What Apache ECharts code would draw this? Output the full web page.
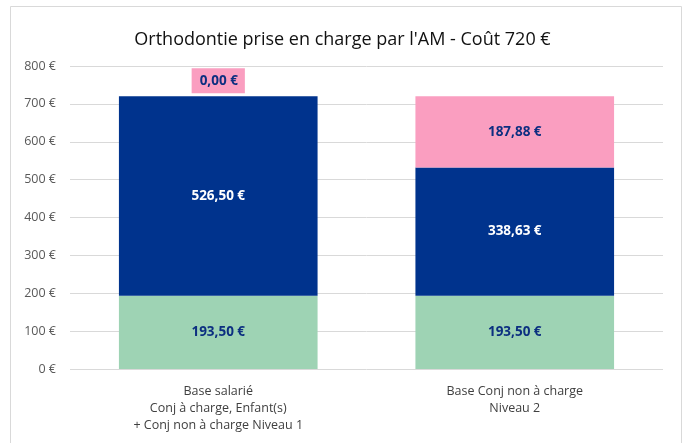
<!DOCTYPE html>
<html>
<head>
<meta charset="utf-8">
<script src="https://cdn.jsdelivr.net/npm/echarts@6/dist/echarts.min.js"></script>
<style>
  html, body { margin: 0; padding: 0; background: #fff; }
  #chart { width: 685px; height: 443px; }
</style>
</head>
<body>
<div id="chart"></div>
<script>
// data
var categories = [
  'Base salarié\nConj à charge, Enfant(s)\n+ Conj non à charge Niveau 1',
  'Base Conj non à charge\nNiveau 2'
]
var baseValues = [193.50, 193.50]
var amValues = [526.50, 338.63]
var resteValues = [0.00, 187.88]
var yTicks = [0, 100, 200, 300, 400, 500, 600, 700, 800]

var FONT = '"Open Sans", "Noto Sans", sans-serif'

function euro(v) {
  return v.toFixed(2).replace('.', ',') + ' €'
}

var chart = echarts.init(document.getElementById('chart'))

// pink slice: zero value gets its label on top with a pink box
var resteData = resteValues.map(function (v) {
  if (v === 0) {
    return {
      value: v,
      label: {
        position: 'top',
        distance: 3,
        backgroundColor: '#fa9ec0',
        padding: [6, 7, 5, 8]
      }
    }
  }
  return v
})

var dataLabel = {
  show: true,
  position: 'inside',
  fontFamily: FONT,
  fontWeight: 'bold',
  fontSize: 13.5,
  formatter: function (p) { return euro(p.value) }
}

chart.setOption({
  animation: false,
  title: {
    text: "Orthodontie prise en charge par l'AM - Coût 720 €",
    left: 'center',
    top: 26,
    textStyle: {
      fontFamily: FONT,
      fontSize: 18,
      fontWeight: 'normal',
      color: '#111'
    }
  },
  graphic: [{
    type: 'rect',
    shape: { x: 10.5, y: 6.5, width: 671, height: 460 },
    style: { fill: 'none', stroke: '#d9d9d9', lineWidth: 1 },
    silent: true
  }],
  grid: {
    left: 70,
    right: 22,
    top: 66,
    bottom: 74
  },
  xAxis: {
    type: 'category',
    data: categories,
    axisLine: { show: false },
    axisTick: { show: false },
    axisLabel: {
      margin: 14,
      color: '#404040',
      fontFamily: FONT,
      fontSize: 12.5,
      lineHeight: 17
    }
  },
  yAxis: {
    type: 'value',
    min: yTicks[0],
    max: yTicks[yTicks.length - 1],
    interval: 100,
    axisLine: { show: false },
    axisTick: { show: false },
    splitLine: { lineStyle: { color: '#d9d9d9', width: 1 } },
    axisLabel: {
      margin: 14,
      color: '#595959',
      fontFamily: FONT,
      fontSize: 12.5,
      formatter: function (v) { return v + ' €' }
    }
  },
  series: [
    {
      name: 'Base',
      type: 'bar',
      stack: 'total',
      barWidth: '67%',
      data: baseValues,
      itemStyle: { color: '#9ed3b4' },
      label: Object.assign({}, dataLabel, { color: '#0c2f80' })
    },
    {
      name: 'AM',
      type: 'bar',
      stack: 'total',
      data: amValues,
      itemStyle: { color: '#00338d' },
      label: Object.assign({}, dataLabel, { color: '#ffffff' })
    },
    {
      name: 'Reste',
      type: 'bar',
      stack: 'total',
      data: resteData,
      itemStyle: { color: '#fa9ec0' },
      label: Object.assign({}, dataLabel, { color: '#0c2f80' })
    }
  ]
})
</script>
</body>
</html>
